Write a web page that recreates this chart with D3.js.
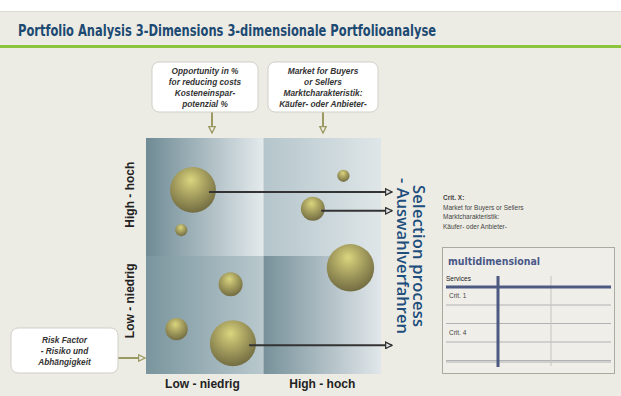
<!DOCTYPE html>
<html>
<head>
<meta charset="utf-8">
<script src="https://cdn.jsdelivr.net/npm/d3@7"></script>
<style>
  body { margin: 0; background: #fff; }
  svg { display: block; font-family: "DejaVu Sans", Verdana, sans-serif; }
</style>
</head>
<body>
<svg id="chart" width="621" height="396"></svg>
<script>
// portfolio bubbles: x = opportunity, y = risk, size = market
var names = ['P1', 'P2', 'P3', 'P4', 'P5', 'P6', 'P7', 'P8'];
var opportunity = [2.0, 1.5, 8.4, 7.1, 8.7, 3.6, 1.3, 3.7];
var risk = [7.8, 6.1, 8.4, 7.0, 4.5, 3.8, 1.9, 1.3];
var market = [84, 6, 6, 23, 90, 23, 20, 85];
var selected = ['P1', 'P4', 'P8'];

var levelLabelsX = ['Low - niedrig', 'High - hoch'];
var levelLabelsY = ['Low - niedrig', 'High - hoch'];
var critLines = ['Crit. X:', 'Market for Buyers or Sellers', 'Marktcharakteristik:', 'Käufer- oder Anbieter-'];
var tableRows = ['Crit. 1', '', 'Crit. 4', '', ''];

(function () {
    var svg = d3.select('#chart');
    var defs = svg.append('defs');

    var x = d3.scaleLinear().domain([0, 10]).range([146, 381]);
    var y = d3.scaleLinear().domain([0, 10]).range([374, 138]);
    var r = d3.scaleSqrt().domain([0, 100]).range([0, 25]);
    var xMid = x(5), yMid = y(5);

    // gradients
    function hGrad(id, c0, c1) {
        var g = defs.append('linearGradient').attr('id', id);
        g.append('stop').attr('offset', '0%').attr('stop-color', c0);
        g.append('stop').attr('offset', '100%').attr('stop-color', c1);
    }
    hGrad('q-tl', '#6f8b95', '#e4eaec');
    hGrad('q-tr', '#b4c5cb', '#dfe6e8');
    hGrad('q-bl', '#7a959e', '#b9c9ce');
    hGrad('q-br', '#77919a', '#e1e7ea');

    var rg = defs.append('radialGradient').attr('id', 'ball')
        .attr('cx', '0.45').attr('cy', '0.35').attr('r', '0.65')
        .attr('fx', '0.45').attr('fy', '0.28');
    rg.append('stop').attr('offset', '0%').attr('stop-color', '#d9d67e');
    rg.append('stop').attr('offset', '45%').attr('stop-color', '#aba462');
    rg.append('stop').attr('offset', '100%').attr('stop-color', '#736d42');

    function marker(id, color, fill) {
        defs.append('marker').attr('id', id)
            .attr('viewBox', '0 0 10 10').attr('refX', 9).attr('refY', 5)
            .attr('markerWidth', 4).attr('markerHeight', 4).attr('orient', 'auto')
            .attr('markerUnits', 'strokeWidth')
            .append('path').attr('d', 'M1,1L9,5L1,9Z')
            .attr('fill', fill).attr('stroke', color).attr('stroke-width', 1.6);
    }
    marker('arr-dark', '#333', '#dfe5e7');
    marker('arr-olive', '#9b9a63', '#edece4');

    // background & title bar
    svg.append('rect').attr('x', 0).attr('y', 11).attr('width', 621).attr('height', 385).attr('fill', '#edece4');
    svg.append('line').attr('x1', 0).attr('x2', 621).attr('y1', 11.5).attr('y2', 11.5).attr('stroke', '#dcdbd3');
    svg.append('rect').attr('x', 0).attr('y', 45).attr('width', 621).attr('height', 3).attr('fill', '#8cc43d');
    svg.append('text').attr('x', 18).attr('y', 36)
        .attr('font-size', 15).attr('font-weight', 'bold').attr('fill', '#1d4a72')
        .attr('font-family', 'DejaVu Sans Condensed, DejaVu Sans, sans-serif')
        .attr('textLength', 418).attr('lengthAdjust', 'spacingAndGlyphs')
        .text('Portfolio Analysis 3-Dimensions 3-dimensionale Portfolioanalyse');

    // quadrants
    var quads = [
        { id: 'q-tl', x0: x(0), x1: xMid, y0: y(10), y1: yMid },
        { id: 'q-tr', x0: xMid, x1: x(10), y0: y(10), y1: yMid },
        { id: 'q-bl', x0: x(0), x1: xMid, y0: yMid, y1: y(0) },
        { id: 'q-br', x0: xMid, x1: x(10), y0: yMid, y1: y(0) }
    ];
    svg.selectAll('.quad').data(quads).enter().append('rect')
        .attr('class', 'quad')
        .attr('x', function (d) { return d.x0; })
        .attr('y', function (d) { return d.y0; })
        .attr('width', function (d) { return d.x1 - d.x0; })
        .attr('height', function (d) { return d.y1 - d.y0; })
        .attr('fill', function (d) { return 'url(#' + d.id + ')'; });

    // axis labels
    svg.selectAll('.xlab').data(levelLabelsX).enter().append('text')
        .attr('x', function (d, i) { return i ? x(7.5) : x(2.4); })
        .attr('y', 388).attr('text-anchor', 'middle')
        .attr('font-size', 12).attr('font-weight', 'bold').attr('fill', '#222')
        .attr('font-family', 'Liberation Sans, Arial, sans-serif')
        .text(function (d) { return d; });
    svg.selectAll('.ylab').data(levelLabelsY).enter().append('text')
        .attr('transform', function (d, i) { return 'translate(134,' + (i ? y(7.6) : y(3.1)) + ') rotate(-90)'; })
        .attr('text-anchor', 'middle')
        .attr('font-size', 12).attr('font-weight', 'bold').attr('fill', '#222')
        .attr('font-family', 'Liberation Sans, Arial, sans-serif')
        .text(function (d) { return d; });

    // bubbles
    var data = names.map(function (n, i) {
        return { name: n, x: opportunity[i], y: risk[i], m: market[i] };
    });
    svg.selectAll('.bubble').data(data).enter().append('circle')
        .attr('class', 'bubble')
        .attr('cx', function (d) { return x(d.x); })
        .attr('cy', function (d) { return y(d.y); })
        .attr('r', function (d) { return r(d.m); })
        .attr('fill', 'url(#ball)');

    // selection arrows
    var sel = data.filter(function (d) { return selected.indexOf(d.name) >= 0; });
    svg.selectAll('.sel').data(sel).enter().append('line')
        .attr('x1', function (d) { return x(d.x) + r(d.m) * 0.7; })
        .attr('x2', 392)
        .attr('y1', function (d) { return y(d.y) + 2; })
        .attr('y2', function (d) { return y(d.y) + 2; })
        .attr('stroke', '#333').attr('stroke-width', 2)
        .attr('marker-end', 'url(#arr-dark)');

    // selection process label
    var sp = svg.append('text').attr('transform', 'translate(413,256) rotate(90)')
        .attr('text-anchor', 'middle').attr('fill', '#1d4e7c')
        .attr('font-family', 'Open Sans, sans-serif').attr('font-size', 16.5).attr('font-weight', 600);
    sp.append('tspan').attr('x', 0).attr('dy', 0).attr('textLength', 142).text('Selection process');
    sp.append('tspan').attr('x', 0).attr('dy', 16).attr('textLength', 156).text('- Auswahlverfahren');

    // callout boxes
    function box(bx, by, w, h, lines, ax, ay, horizontal) {
        var g = svg.append('g');
        if (horizontal) {
            g.append('line').attr('x1', bx + w).attr('x2', ax).attr('y1', ay).attr('y2', ay)
                .attr('stroke', '#9b9a63').attr('stroke-width', 2).attr('marker-end', 'url(#arr-olive)');
        } else {
            g.append('line').attr('x1', ax).attr('x2', ax).attr('y1', by + h).attr('y2', ay)
                .attr('stroke', '#9b9a63').attr('stroke-width', 2).attr('marker-end', 'url(#arr-olive)');
        }
        g.append('rect').attr('x', bx).attr('y', by).attr('width', w).attr('height', h)
            .attr('rx', 7).attr('fill', '#fff').attr('stroke', '#cfcfc7');
        var lh = 11;
        var top = by + h / 2 - (lines.length - 1) * lh / 2 + 3;
        g.selectAll('text').data(lines).enter().append('text')
            .attr('x', bx + w / 2).attr('y', function (d, i) { return top + i * lh; })
            .attr('text-anchor', 'middle').attr('font-size', 8.3)
            .attr('font-style', 'italic').attr('font-weight', 'bold').attr('fill', '#333')
            .attr('font-family', 'Liberation Sans Narrow, Liberation Sans, Arial, sans-serif')
            .text(function (d) { return d; });
    }
    box(152, 62, 106, 50, ['Opportunity in %', 'for reducing costs', 'Kosteneinspar-', 'potenzial %'], 212, 133, false);
    box(268, 62, 110, 50, ['Market for Buyers', 'or Sellers', 'Marktcharakteristik:', 'Käufer- oder Anbieter-'], 323, 133, false);
    box(11, 328, 107, 45, ['Risk Factor', '- Risiko und', 'Abhängigkeit'], 145, 358, true);

    // crit text
    svg.selectAll('.crit').data(critLines).enter().append('text')
        .attr('x', 443).attr('y', function (d, i) { return 200 + i * 9.5; })
        .attr('font-size', 6.5).attr('fill', '#444')
        .attr('font-weight', function (d, i) { return i ? 'normal' : 'bold'; })
        .attr('font-family', 'Liberation Sans, Arial, sans-serif')
        .text(function (d) { return d; });

    // multidimensional table
    var t = svg.append('g');
    t.append('rect').attr('x', 442.5).attr('y', 247.5).attr('width', 172).attr('height', 126)
        .attr('fill', '#efeee8').attr('stroke', '#aaa9a2');
    t.append('text').attr('x', 448).attr('y', 265).attr('fill', '#4a5888')
        .attr('font-size', 10).attr('font-weight', 'bold')
        .attr('textLength', 92).attr('lengthAdjust', 'spacingAndGlyphs')
        .attr('font-family', 'DejaVu Sans, sans-serif')
        .text('multidimensional');
    t.append('text').attr('x', 446).attr('y', 281).attr('font-size', 6.5).attr('fill', '#222')
        .attr('font-family', 'Liberation Sans, Arial, sans-serif').text('Services');
    var rowY = d3.scaleLinear().domain([0, 1]).range([305, 323.5]);
    t.selectAll('.rowline').data(tableRows.slice(0, 4)).enter().append('line')
        .attr('x1', 446).attr('x2', 611)
        .attr('y1', function (d, i) { return rowY(i); })
        .attr('y2', function (d, i) { return rowY(i); })
        .attr('stroke', '#b0b2b4').attr('stroke-width', 1);
    t.append('line').attr('x1', 446).attr('x2', 611).attr('y1', 362).attr('y2', 362)
        .attr('stroke', '#b0b2b4');
    t.selectAll('.rowlab').data(tableRows).enter().append('text')
        .attr('x', 449).attr('y', function (d, i) { return rowY(i) - 7; })
        .attr('font-size', 6.5).attr('fill', '#444')
        .attr('font-family', 'Liberation Sans, Arial, sans-serif')
        .text(function (d) { return d; });
    t.append('line').attr('x1', 551).attr('x2', 551).attr('y1', 276).attr('y2', 366)
        .attr('stroke', '#c4c4c0').attr('stroke-width', 1);
    t.append('line').attr('x1', 446).attr('x2', 611).attr('y1', 287).attr('y2', 287)
        .attr('stroke', '#4c5a82').attr('stroke-width', 3);
    t.append('line').attr('x1', 498).attr('x2', 498).attr('y1', 276).attr('y2', 367)
        .attr('stroke', '#4c5a82').attr('stroke-width', 3);
}());
</script>
</body>
</html>
